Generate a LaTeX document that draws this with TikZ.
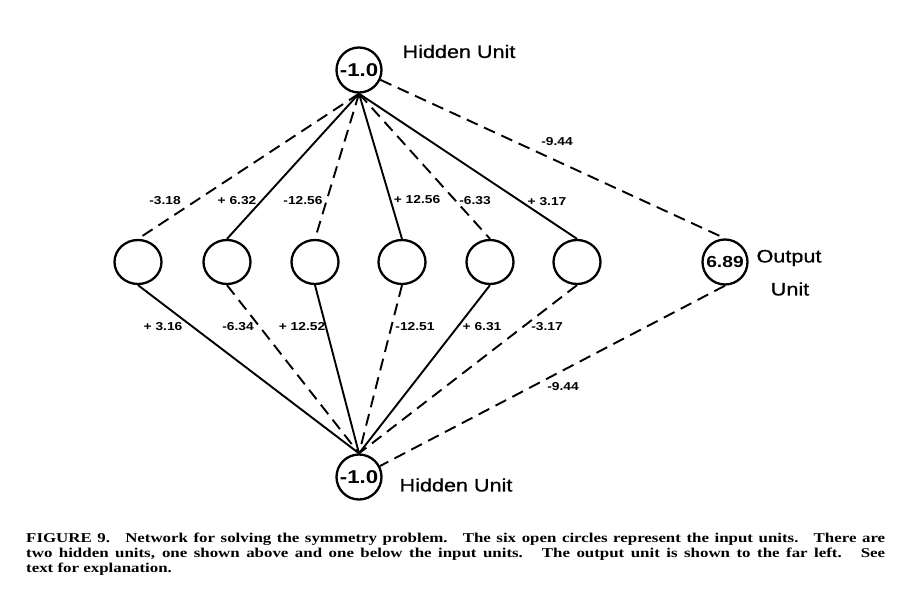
\documentclass[tikz,border=0pt]{standalone}
\usepackage{fontspec}
\usetikzlibrary{shapes.geometric}
\newfontfamily\labfont[FakeStretch=1.2]{Liberation Sans}
\newfontfamily\ulabfont[FakeStretch=1.2, FakeBold=0.8]{Liberation Sans}
\newfontfamily\capfont[FakeStretch=1.25]{Liberation Serif}
\begin{document}
\begin{tikzpicture}[x=1pt,y=-1pt,
  unit/.style={circle, draw, line width=2.3pt, minimum size=45pt, inner sep=0pt},
  inp/.style={ellipse, draw, line width=2.3pt, minimum width=47pt, minimum height=44pt, inner sep=0pt},
  poswt/.style={line width=1.9pt},
  negwt/.style={line width=1.9pt, dash pattern=on 12pt off 7pt},
  wlab/.style={font=\labfont\bfseries\fontsize{11.5}{12}\selectfont, inner sep=0pt},
  ulab/.style={font=\ulabfont\fontsize{18}{20}\selectfont, inner sep=0pt},
  unum/.style={font=\labfont\bfseries\fontsize{18.5}{19}\selectfont},
  capline/.style={font=\capfont\bfseries\fontsize{13.5}{15}\selectfont, inner sep=0pt, anchor=base west}
]
\path[use as bounding box, fill=white] (0,0) rectangle (905,597);

% units
\node[unit, unum] (T) at (359,70) {-1.0};
\node[unit, unum] (B) at (359,477) {-1.0};
\node[unit, font=\labfont\bfseries\fontsize{16}{17}\selectfont] (O) at (725,262) {6.89};
\node[inp] (I1) at (138,262) {};
\node[inp] (I2) at (227,262) {};
\node[inp] (I3) at (315,262) {};
\node[inp] (I4) at (402,262) {};
\node[inp] (I5) at (490,262) {};
\node[inp] (I6) at (577,262) {};

% unit labels
\node[ulab] (TL) at (459,51.5) {Hidden Unit};
\node[ulab] (BL) at (456,485) {Hidden Unit};
\node[ulab] (OL1) at (789,258) {Output};
\node[ulab] (OL2) at (790,289) {Unit};

% connections, upper hidden unit
\draw[negwt] (T.south) -- (I1.north);
\draw[poswt] (T.south) -- (I2.north);
\draw[negwt] (T.south) -- (I3.north);
\draw[poswt] (T.south) -- (I4.north);
\draw[negwt] (T.south) -- (I5.north);
\draw[poswt] (T.south) -- (I6.north);
\draw[negwt] (T) -- (O.north);

% connections, lower hidden unit
\draw[poswt] (I1.south) -- (B.north);
\draw[negwt] (I2.south) -- (B.north);
\draw[poswt] (I3.south) -- (B.north);
\draw[negwt] (I4.south) -- (B.north);
\draw[poswt] (I5.south) -- (B.north);
\draw[negwt] (I6.south) -- (B.north);
\draw[negwt] (O.south) -- (B);

% weight labels
\node[wlab] (w1) at (165,201) {-3.18};
\node[wlab] (w2) at (237,201) {+ 6.32};
\node[wlab] (w3) at (303,201) {-12.56};
\node[wlab] (w4) at (417,200) {+ 12.56};
\node[wlab] (w5) at (475,201) {-6.33};
\node[wlab] (w6) at (547,202) {+ 3.17};
\node[wlab] (w7) at (557,142) {-9.44};
\node[wlab] (v1) at (163,327) {+ 3.16};
\node[wlab] (v2) at (238,327) {-6.34};
\node[wlab] (v3) at (302,327) {+ 12.52};
\node[wlab] (v4) at (415,327) {-12.51};
\node[wlab] (v5) at (482,327) {+ 6.31};
\node[wlab] (v6) at (547,327) {-3.17};
\node[wlab] (v7) at (563,387) {-9.44};

% caption
\node[capline] (c1) at (26,542) {\makebox[859pt][s]{FIGURE 9. \ Network for solving the symmetry problem. \ The six open circles represent the input units. \ There are}};
\node[capline] (c2) at (26,557) {\makebox[859pt][s]{two hidden units, one shown above and one below the input units. \ The output unit is shown to the far left. \ See}};
\node[capline] (c3) at (26,572) {text for explanation.};
\end{tikzpicture}
\end{document}
